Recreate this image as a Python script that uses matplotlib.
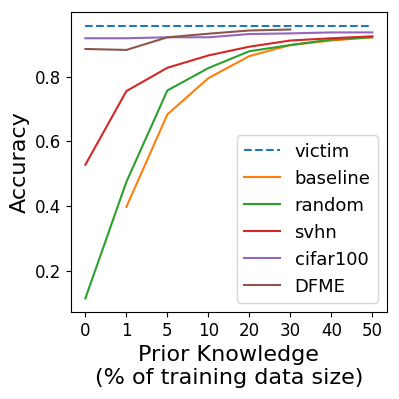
import matplotlib
matplotlib.use("Agg")
import matplotlib.pyplot as plt

# x categories (prior knowledge, % of training data)
xLabels = ["0", "1", "5", "10", "20", "30", "40", "50"]

victim = [0.957] * 8
baseline = [None, 0.398, 0.683, 0.795, 0.863, 0.897, 0.911, 0.921]
random = [0.116, 0.475, 0.757, 0.826, 0.878, 0.897, 0.914, 0.921]
svhn = [0.528, 0.755, 0.827, 0.865, 0.892, 0.911, 0.918, 0.924]
cifar100 = [0.918, 0.918, 0.921, 0.921, 0.931, 0.933, 0.936, 0.936]
dfme = [0.885, 0.882, 0.921, 0.932, 0.942, 0.945]

fig = plt.figure(figsize=(3.99, 3.99), dpi=100)
ax = fig.add_axes([0.178, 0.218, 0.791, 0.752])

xs = list(range(len(xLabels)))
ax.plot(xs, victim, "--", color="tab:blue", label="victim")
ax.plot(xs[1:], baseline[1:], color="tab:orange", label="baseline")
ax.plot(xs, random, color="tab:green", label="random")
ax.plot(xs, svhn, color="tab:red", label="svhn")
ax.plot(xs, cifar100, color="tab:purple", label="cifar100")
ax.plot(xs[:len(dfme)], dfme, color="tab:brown", label="DFME")

ax.set_xticks(xs)
ax.set_xticklabels(xLabels)
ax.set_yticks([0.2, 0.4, 0.6, 0.8])
ax.tick_params(labelsize=12)
ax.set_ylabel("Accuracy", fontsize=16)
ax.set_xlabel("Prior Knowledge\n(% of training data size)", fontsize=16)
ax.legend(loc="lower right", fontsize=13)

fig.savefig("out.png", dpi=100)
